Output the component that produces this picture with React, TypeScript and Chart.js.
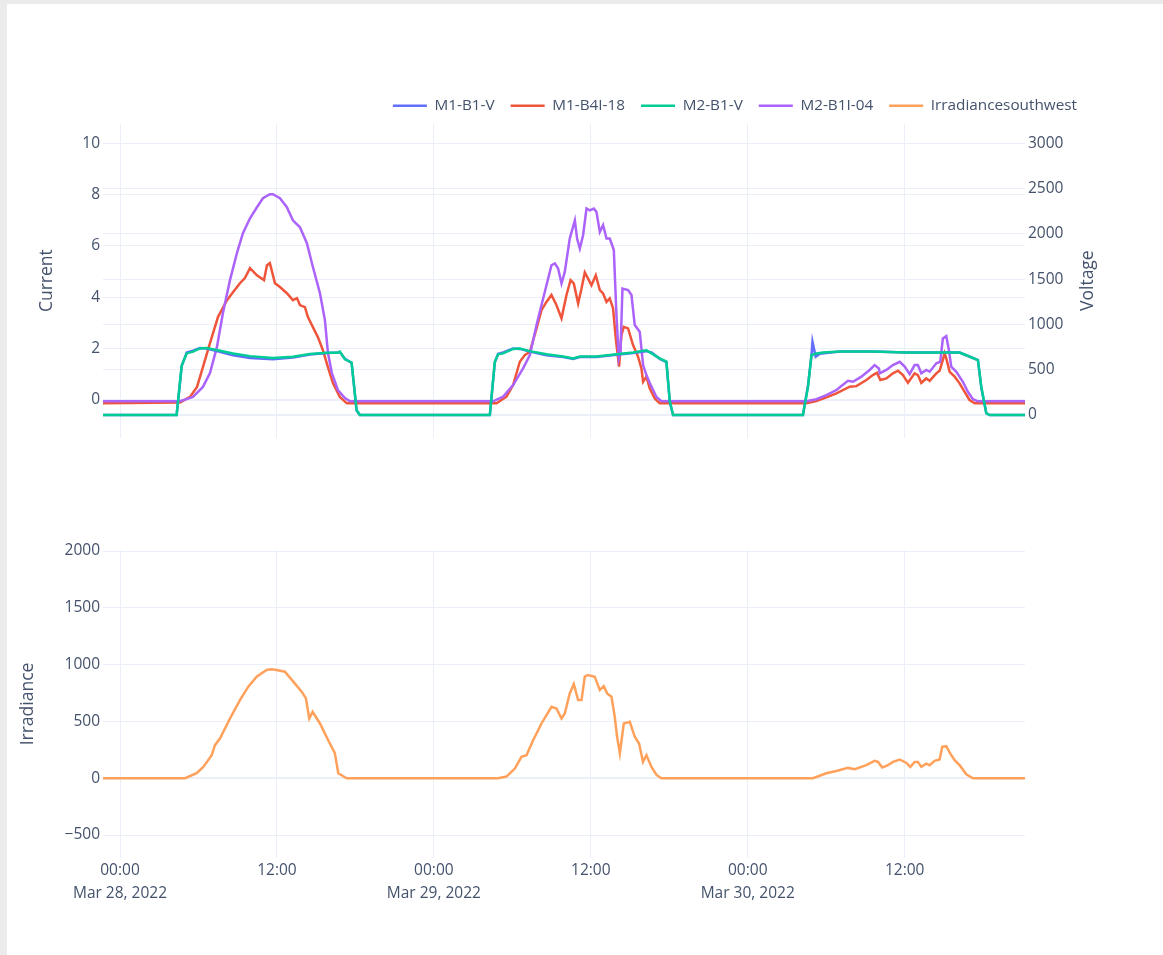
import React, { useEffect, useRef } from "react";
import { Chart, registerables } from "chart.js";

Chart.register(...registerables);

// ---- time axis (hours from Mar 28, 2022 00:00) ----
const xMin = -1.3;
const xMax = 69.2;
const xTickHours = [0, 12, 24, 36, 48, 60];
const dayLabels = ["Mar 28, 2022", "Mar 29, 2022", "Mar 30, 2022"];

// ---- axis ticks ----
const currentTicks = [0, 2, 4, 6, 8, 10];
const voltageTicks = [0, 500, 1000, 1500, 2000, 2500, 3000];
const irradianceTicks = [-500, 0, 500, 1000, 1500, 2000];

// ---- M1-B1-V (voltage) ----
const m1b1vHours = [-1.3, 4.33, 4.72, 5.10, 5.58, 6.11, 6.63, 7.39, 8.64, 9.94, 11.69, 13.22, 14.52, 15.82, 16.66, 16.81, 17.20, 17.71, 18.09, 18.34,
  28.28, 28.66, 28.91, 29.30, 30.06, 30.57, 31.34, 32.61, 33.88, 34.65, 35.16, 36.43, 37.96, 39.23, 40.25, 40.64, 41.27, 41.78, 42.04, 42.29,
  52.22, 52.61, 52.87, 52.95, 53.19, 53.50, 55.03, 57.57, 60.13, 62.67, 64.20, 64.71, 65.60, 65.86, 66.24, 66.49, 69.2];
const m1b1vValues = [0, 0, 540, 690, 710, 740, 735, 705, 660, 630, 615, 635, 668, 685, 690, 695, 620, 575, 50, 0,
  0, 580, 675, 690, 735, 730, 700, 660, 640, 620, 640, 640, 665, 685, 705, 690, 620, 585, 140, 0,
  0, 330, 650, 810, 645, 675, 700, 700, 690, 690, 690, 660, 605, 300, 20, 0, 0];

// ---- M1-B4I-18 (current) ----
const m1b4iHours = [-1.3, 4.59, 5.35, 5.89, 6.34, 6.88, 7.49, 8.18, 8.64, 9.17, 9.55, 9.94, 10.47, 11.01, 11.24, 11.46, 11.85, 12.23, 12.76, 13.22, 13.53, 13.76, 14.14, 14.37, 14.75, 15.13, 15.51, 15.90, 16.28, 16.81, 17.35,
  28.79, 29.55, 30.06, 30.57, 30.95, 31.34, 31.85, 32.23, 32.61, 32.99, 33.37, 33.76, 34.14, 34.45, 34.70, 35.03, 35.29, 35.54, 35.79, 36.05, 36.38, 36.69, 36.94, 37.20, 37.45, 37.70, 37.91, 38.16, 38.34, 38.52, 38.85, 39.23, 39.61, 39.87, 40.00, 40.25, 40.51, 40.89, 41.27,
  52.48, 53.25, 54.01, 54.78, 55.80, 56.31, 57.07, 57.57, 57.88, 58.14, 58.60, 59.10, 59.49, 59.87, 60.25, 60.76, 61.01, 61.27, 61.65, 61.91, 62.42, 62.67, 62.92, 63.05, 63.18, 63.44, 63.82, 64.20, 64.58, 64.96, 65.35, 69.2];
const m1b4iValues = [-0.13, -0.1, 0.12, 0.51, 1.28, 2.22, 3.23, 3.89, 4.20, 4.55, 4.75, 5.14, 4.86, 4.67, 5.25, 5.33, 4.55, 4.40, 4.16, 3.89, 3.97, 3.70, 3.62, 3.23, 2.84, 2.45, 1.95, 1.28, 0.66, 0.12, -0.13,
  -0.13, 0.13, 0.58, 1.49, 1.75, 1.88, 2.79, 3.50, 3.82, 4.09, 3.70, 3.18, 4.09, 4.67, 4.54, 3.76, 4.34, 4.97, 4.73, 4.47, 4.86, 4.28, 4.15, 3.82, 3.96, 3.57, 2.40, 1.30, 2.53, 2.85, 2.79, 2.14, 1.69, 1.23, 0.71, 0.91, 0.45, 0.06, -0.13,
  -0.13, -0.04, 0.10, 0.26, 0.52, 0.54, 0.78, 0.97, 1.06, 0.78, 0.84, 1.04, 1.14, 0.97, 0.67, 1.04, 0.97, 0.67, 0.84, 0.75, 1.04, 1.14, 1.56, 1.82, 1.62, 1.10, 0.91, 0.65, 0.32, 0.00, -0.13, -0.13];

// ---- M2-B1-V (voltage) ----
const m2b1vHours = [-1.3, 4.33, 4.72, 5.10, 5.58, 6.11, 6.63, 7.39, 8.64, 9.94, 11.69, 13.22, 14.52, 15.82, 16.66, 16.81, 17.20, 17.71, 18.09, 18.34,
  28.28, 28.66, 28.91, 29.30, 30.06, 30.57, 31.34, 32.61, 33.88, 34.65, 35.16, 36.43, 37.96, 39.23, 40.25, 40.64, 41.27, 41.78, 42.04, 42.29,
  52.22, 52.61, 52.87, 53.25, 53.75, 55.03, 57.57, 60.13, 62.67, 64.20, 64.71, 65.60, 65.86, 66.24, 66.49, 69.2];
const m2b1vValues = [0, 0, 550, 680, 700, 735, 740, 718, 680, 650, 630, 644, 673, 688, 688, 700, 615, 580, 55, 0,
  0, 590, 670, 680, 730, 735, 705, 670, 645, 625, 645, 645, 670, 690, 715, 680, 625, 590, 150, 0,
  0, 310, 660, 680, 690, 700, 700, 690, 690, 690, 660, 607, 310, 20, 0, 0];

// ---- M2-B1I-04 (current) ----
const m2b1iHours = [-1.3, 4.59, 5.58, 6.34, 6.88, 7.41, 7.87, 8.41, 8.94, 9.40, 9.94, 10.47, 10.93, 11.46, 11.69, 12.23, 12.76, 13.22, 13.76, 14.29, 14.75, 15.29, 15.67, 15.90, 16.20, 16.66, 17.20, 17.58,
  28.53, 29.30, 30.06, 30.82, 31.34, 31.85, 32.23, 32.61, 32.99, 33.25, 33.50, 33.76, 34.01, 34.39, 34.78, 34.95, 35.16, 35.41, 35.67, 35.92, 36.23, 36.43, 36.69, 36.94, 37.20, 37.45, 37.76, 37.96, 38.14, 38.27, 38.42, 38.85, 39.11, 39.36, 39.74, 40.00, 40.25, 40.51, 41.02, 41.40,
  52.48, 53.25, 54.01, 54.78, 55.66, 56.05, 56.69, 57.32, 57.70, 58.03, 58.09, 58.60, 59.10, 59.62, 60.00, 60.38, 60.76, 61.01, 61.27, 61.65, 61.91, 62.42, 62.72, 62.92, 63.18, 63.38, 63.56, 63.95, 64.45, 64.83, 65.22, 65.60, 69.2];
const m2b1iValues = [-0.05, -0.05, 0.12, 0.51, 1.05, 2.06, 3.39, 4.67, 5.72, 6.50, 7.08, 7.51, 7.86, 8.02, 8.02, 7.86, 7.51, 7.00, 6.73, 6.11, 5.18, 4.16, 3.11, 1.83, 1.05, 0.39, 0.08, -0.05,
  -0.05, 0.13, 0.58, 1.23, 1.75, 2.92, 3.70, 4.47, 5.25, 5.32, 5.12, 4.54, 4.99, 6.29, 7.00, 6.29, 5.90, 6.42, 7.46, 7.39, 7.46, 7.33, 6.55, 6.81, 6.29, 6.29, 5.84, 3.31, 1.62, 1.88, 4.34, 4.28, 4.09, 2.92, 2.66, 1.36, 0.97, 0.66, 0.12, -0.05,
  -0.05, 0.03, 0.19, 0.39, 0.75, 0.71, 0.91, 1.17, 1.36, 1.23, 1.04, 1.17, 1.36, 1.49, 1.30, 1.01, 1.36, 1.36, 1.04, 1.17, 1.10, 1.43, 1.49, 2.40, 2.49, 1.95, 1.30, 1.10, 0.71, 0.32, 0.03, -0.05, -0.05];

// ---- Irradiancesouthwest ----
const irrHours = [-1.3, 4.97, 5.86, 6.37, 7.01, 7.26, 7.64, 8.41, 9.17, 9.81, 10.45, 11.21, 11.59, 11.98, 12.61, 13.25, 13.89, 14.22, 14.47, 14.73, 15.29, 15.92, 16.43, 16.69, 17.33,
  28.91, 29.55, 30.19, 30.70, 31.08, 31.59, 32.23, 32.99, 33.37, 33.76, 34.01, 34.39, 34.70, 35.03, 35.29, 35.54, 35.79, 36.30, 36.69, 36.99, 37.25, 37.58, 37.83, 38.01, 38.22, 38.52, 38.98, 39.36, 39.69, 39.99, 40.25, 40.64, 41.02, 41.40,
  52.99, 54.01, 54.78, 55.66, 56.18, 57.07, 57.70, 57.96, 58.29, 58.72, 59.10, 59.62, 60.13, 60.43, 60.76, 61.01, 61.27, 61.65, 61.91, 62.29, 62.67, 62.87, 63.18, 63.48, 63.82, 64.20, 64.71, 65.22, 69.2];
const irrValues = [0, 0, 44, 100, 203, 291, 350, 526, 688, 806, 894, 953, 959, 953, 938, 850, 762, 703, 526, 585, 482, 335, 220, 44, 0,
  0, 15, 85, 188, 203, 335, 482, 629, 614, 526, 570, 747, 829, 688, 688, 894, 909, 894, 776, 811, 747, 718, 541, 365, 218, 482, 497, 365, 306, 144, 203, 100, 29, 0,
  0, 44, 64, 91, 79, 115, 153, 144, 94, 115, 144, 165, 135, 100, 144, 144, 100, 129, 115, 153, 165, 276, 282, 218, 159, 115, 35, 0, 0];

const FONT = '"Open Sans", sans-serif';
const TEXT = "#44526c";
const GRID = "#ebf0f8";
const TICK_SIZE = 15.5;
const TITLE_SIZE = 17.5;
const LEGEND_SIZE = 15.3;

const pts = (hs: number[], vs: number[]) => hs.map((h, i) => ({ x: h, y: vs[i] }));
const setTicks = (vals: number[]) => (scale: any) => {
  scale.ticks = vals.map((v) => ({ value: v }));
};
const plainTick = (v: any) => String(v);
const gridOpts = {
  color: GRID,
  lineWidth: (c: any) => (c.tick && c.tick.value === 0 ? 2 : 1),
  drawTicks: false,
};

const line = (label: string, color: string, data: any[], yAxisID: string, order: number) => ({
  label,
  data,
  yAxisID,
  order,
  borderColor: color,
  backgroundColor: color,
  borderWidth: 2.5,
  pointRadius: 0,
  pointHoverRadius: 0,
  tension: 0,
  fill: false,
});

export default function App() {
  const topRef = useRef<HTMLCanvasElement>(null);
  const botRef = useRef<HTMLCanvasElement>(null);

  useEffect(() => {
    const voltageTitle = {
      id: "voltageTitle",
      afterDraw(chart: any) {
        const { ctx, chartArea } = chart;
        ctx.save();
        ctx.translate(chartArea.right + 63, (chartArea.top + chartArea.bottom) / 2);
        ctx.rotate(-Math.PI / 2);
        ctx.font = `${TITLE_SIZE}px ${FONT}`;
        ctx.fillStyle = TEXT;
        ctx.textAlign = "center";
        ctx.textBaseline = "middle";
        ctx.fillText("Voltage", 0, 0);
        ctx.restore();
      },
    };

    const top = new Chart(topRef.current!, {
      type: "line",
      data: {
        datasets: [
          line("M1-B1-V", "#636efa", pts(m1b1vHours, m1b1vValues), "yV", 1),
          line("M1-B4I-18", "#ef553b", pts(m1b4iHours, m1b4iValues), "yC", 3),
          line("M2-B1-V", "#00cc96", pts(m2b1vHours, m2b1vValues), "yV", 0),
          line("M2-B1I-04", "#ab63fa", pts(m2b1iHours, m2b1iValues), "yC", 2),
          line("Irradiancesouthwest", "#ffa15a", [], "yC", 4),
        ] as any,
      },
      options: {
        responsive: false,
        animation: false,
        events: [],
        layout: { padding: { top: 82, right: 20, bottom: 22, left: 0 } },
        plugins: {
          tooltip: { enabled: false },
          legend: {
            position: "top",
            align: "end",
            labels: {
              usePointStyle: true,
              pointStyleWidth: 34,
              padding: 16,
              color: TEXT,
              font: { family: FONT, size: LEGEND_SIZE },
              generateLabels: (chart: any) =>
                chart.data.datasets.map((ds: any, i: number) => ({
                  text: ds.label,
                  fillStyle: ds.borderColor,
                  strokeStyle: ds.borderColor,
                  lineWidth: 2.5,
                  pointStyle: "line",
                  hidden: false,
                  datasetIndex: i,
                  fontColor: TEXT,
                })),
            },
          },
        },
        scales: {
          x: {
            type: "linear",
            min: xMin,
            max: xMax,
            afterBuildTicks: setTicks(xTickHours),
            afterFit: (s: any) => {
              s.height = 0;
            },
            ticks: { display: false },
            grid: { color: GRID, drawTicks: false },
            border: { display: false },
          },
          yC: {
            type: "linear",
            position: "left",
            min: -1.48,
            max: 10.78,
            afterBuildTicks: setTicks(currentTicks),
            afterFit: (s: any) => {
              s.width = 103;
            },
            ticks: { color: TEXT, font: { family: FONT, size: TICK_SIZE }, padding: 3, callback: plainTick },
            grid: gridOpts,
            border: { display: false },
            title: {
              display: true,
              text: "Current",
              color: TEXT,
              font: { family: FONT, size: TITLE_SIZE },
              padding: { top: 36.5, bottom: 0 },
            },
          },
          yV: {
            type: "linear",
            position: "right",
            min: -254,
            max: 3221,
            afterBuildTicks: setTicks(voltageTicks),
            afterFit: (s: any) => {
              s.width = 68;
            },
            ticks: { color: TEXT, font: { family: FONT, size: TICK_SIZE }, padding: 3, callback: plainTick },
            grid: gridOpts,
            border: { display: false },
          },
        },
      } as any,
      plugins: [voltageTitle],
    });

    const bot = new Chart(botRef.current!, {
      type: "line",
      data: {
        datasets: [line("Irradiancesouthwest", "#ffa15a", pts(irrHours, irrValues), "y", 0)] as any,
      },
      options: {
        responsive: false,
        animation: false,
        events: [],
        layout: { padding: { top: 50, right: 88, bottom: 37, left: 0 } },
        plugins: { legend: { display: false }, tooltip: { enabled: false } },
        scales: {
          x: {
            type: "linear",
            min: xMin,
            max: xMax,
            afterBuildTicks: setTicks(xTickHours),
            afterFit: (s: any) => {
              s.height = 60;
            },
            ticks: {
              color: TEXT,
              font: { family: FONT, size: TICK_SIZE, lineHeight: "23px" },
              padding: 1,
              maxRotation: 0,
              autoSkip: false,
              callback: (v: any) => {
                const h = Number(v);
                if (h % 24 === 0) return ["00:00", dayLabels[h / 24]];
                return "12:00";
              },
            },
            grid: { color: GRID, drawTicks: false },
            border: { display: false },
          },
          y: {
            type: "linear",
            position: "left",
            min: -702,
            max: 2009,
            afterBuildTicks: setTicks(irradianceTicks),
            afterFit: (s: any) => {
              s.width = 103;
            },
            ticks: {
              color: TEXT,
              font: { family: FONT, size: TICK_SIZE },
              padding: 3,
              callback: (v: any) => (Number(v) < 0 ? "\u2212" + String(-Number(v)) : String(v)),
            },
            grid: gridOpts,
            border: { display: false },
            title: {
              display: true,
              text: "Irradiance",
              color: TEXT,
              font: { family: FONT, size: TITLE_SIZE },
              padding: { top: 17.5, bottom: 0 },
            },
          },
        },
      } as any,
    });

    return () => {
      top.destroy();
      bot.destroy();
    };
  }, []);

  return (
    <div style={{ position: "absolute", left: 0, top: 0, width: 1163, height: 955, background: "#fff", overflow: "hidden" }}>
      <div style={{ position: "absolute", left: 0, top: 0, width: 7, height: 955, background: "#ebebeb" }} />
      <div style={{ position: "absolute", left: 0, top: 0, width: 1163, height: 4, background: "#ebebeb" }} />
      <canvas ref={topRef} width={1113} height={460} style={{ position: "absolute", left: 0, top: 0 }} />
      <canvas ref={botRef} width={1113} height={455} style={{ position: "absolute", left: 0, top: 500 }} />
    </div>
  );
}
